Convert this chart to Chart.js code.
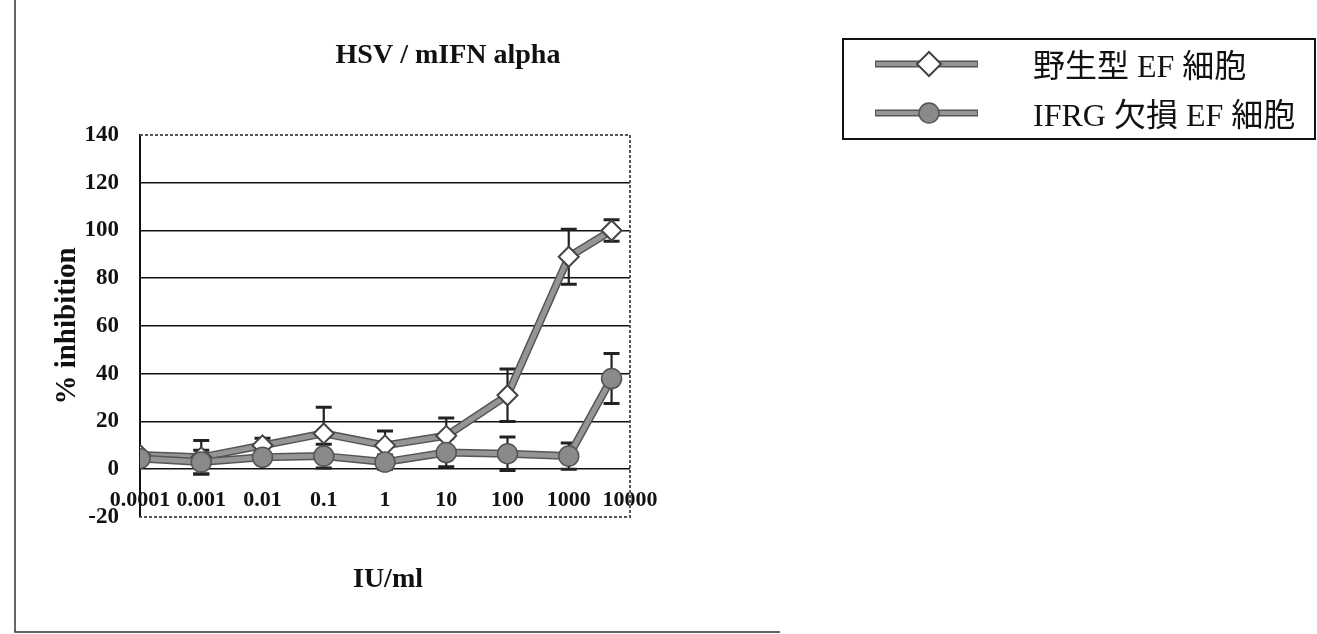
<!DOCTYPE html>
<html>
<head>
<meta charset="utf-8">
<script src="https://cdn.jsdelivr.net/npm/chart.js@4/dist/chart.umd.min.js"></script>
<style>
  html, body { margin: 0; padding: 0; background: #fff; }
  #wrap { position: relative; width: 1317px; height: 634px; }
</style>
</head>
<body>
<div id="wrap"><canvas id="c" width="1317" height="634"></canvas></div>
<script>
// Concentrations (IU/ml) and tick labels of the log axis
const doseTickLabels = ['0.0001', '0.001', '0.01', '0.1', '1', '10', '100', '1000', '10000'];
const doses = [0.0001, 0.001, 0.01, 0.1, 1, 10, 100, 1000, 5000];

// % inhibition, mean and error per concentration
const wildType    = [6, 5, 10, 15, 10, 14, 31, 89, 100];
const wildTypeErr = [null, 7, 3, 11, 6, 7.5, 11, 11.5, 4.5];
const ifrgKO      = [4.5, 3, 5, 5.5, 3, 7, 6.5, 5.5, 38];
const ifrgKOErr   = [null, 5, 2, 5, 3, 6, 7, 5.5, 10.5];

const seriesNames = ['野生型 EF 細胞', 'IFRG 欠損 EF 細胞'];
const chartTitle = 'HSV / mIFN alpha';
const xAxisTitle = 'IU/ml';
const yAxisTitle = '% inhibition';

const SERIF = '"Liberation Serif", "Times New Roman", serif';
const LEGEND_FONT = '"Liberation Serif", "Noto Sans CJK JP", serif';
const INK = '#111';
const LINE_GREY = '#959595';
const LINE_EDGE = '#555';

const toPoints = (ys) => doses.map((x, i) => ({ x: x, y: ys[i] }));

// Plot frame (dotted top/right/bottom) and the page border lines
const framePlugin = {
  id: 'frame',
  beforeDatasetsDraw(chart) {
    const { ctx, chartArea: a } = chart;
    ctx.save();
    ctx.strokeStyle = '#555';
    ctx.lineWidth = 2;
    ctx.setLineDash([3, 2]);
    ctx.beginPath();
    ctx.moveTo(a.left, a.top);
    ctx.lineTo(a.right, a.top);
    ctx.lineTo(a.right, a.bottom);
    ctx.lineTo(a.left, a.bottom);
    ctx.stroke();
    ctx.setLineDash([]);
    // page border
    ctx.strokeStyle = '#333';
    ctx.lineWidth = 1.5;
    ctx.beginPath();
    ctx.moveTo(15, 0);
    ctx.lineTo(15, 632);
    ctx.lineTo(780, 632);
    ctx.stroke();
    ctx.restore();
  }
};

// Error bars from each dataset's errorBars array, placed with the chart scales
const errorBarPlugin = {
  id: 'errorBars',
  beforeDatasetsDraw(chart) {
    const { ctx } = chart;
    const xs = chart.scales.x, ys = chart.scales.y;
    ctx.save();
    ctx.strokeStyle = '#222';
    chart.data.datasets.forEach((ds) => {
      const errs = ds.errorBars || [];
      ds.data.forEach((p, i) => {
        const e = errs[i];
        if (!e) return;
        const px = xs.getPixelForValue(p.x);
        const top = ys.getPixelForValue(p.y + e);
        const bot = ys.getPixelForValue(p.y - e);
        ctx.lineWidth = 2.2;
        ctx.beginPath();
        ctx.moveTo(px, top);
        ctx.lineTo(px, bot);
        ctx.stroke();
        ctx.lineWidth = 3;
        ctx.beginPath();
        ctx.moveTo(px - 8, top); ctx.lineTo(px + 8, top);
        ctx.moveTo(px - 8, bot); ctx.lineTo(px + 8, bot);
        ctx.stroke();
      });
    });
    ctx.restore();
  }
};

// Dark edge under each series line
const lineEdgePlugin = {
  id: 'lineEdge',
  beforeDatasetDraw(chart, args) {
    const pts = args.meta.data;
    if (!pts.length) return;
    const { ctx } = chart;
    ctx.save();
    ctx.strokeStyle = LINE_EDGE;
    ctx.lineWidth = 8;
    ctx.lineJoin = 'round';
    ctx.beginPath();
    pts.forEach((pt, i) => (i ? ctx.lineTo(pt.x, pt.y) : ctx.moveTo(pt.x, pt.y)));
    ctx.stroke();
    ctx.restore();
  }
};

// Chart title, x-axis title and the boxed legend
const labelsPlugin = {
  id: 'labels',
  afterDraw(chart) {
    const { ctx } = chart;
    ctx.save();
    ctx.fillStyle = INK;
    ctx.textAlign = 'center';
    ctx.textBaseline = 'middle';
    ctx.font = 'bold 28px ' + SERIF;
    ctx.fillText(chartTitle, 448, 56);
    ctx.fillText(xAxisTitle, 388, 580);

    // legend box
    const box = { x: 843, y: 39, w: 472, h: 100 };
    ctx.strokeStyle = INK;
    ctx.lineWidth = 2;
    ctx.strokeRect(box.x, box.y, box.w, box.h);

    const rows = [
      { ds: chart.data.datasets[0], y: 64, r: 12 },
      { ds: chart.data.datasets[1], y: 113, r: 10 }
    ];
    rows.forEach((row) => {
      const ds = row.ds;
      ctx.strokeStyle = LINE_EDGE;
      ctx.lineWidth = 7;
      ctx.beginPath();
      ctx.moveTo(875, row.y);
      ctx.lineTo(978, row.y);
      ctx.stroke();
      ctx.strokeStyle = ds.borderColor;
      ctx.lineWidth = 4;
      ctx.beginPath();
      ctx.moveTo(876, row.y);
      ctx.lineTo(977, row.y);
      ctx.stroke();
      ctx.fillStyle = ds.pointBackgroundColor;
      ctx.strokeStyle = ds.pointBorderColor;
      ctx.lineWidth = ds.pointBorderWidth;
      Chart.helpers.drawPoint(ctx, {
        pointStyle: ds.pointStyle, radius: row.r, rotation: 0, borderWidth: ds.pointBorderWidth
      }, 929, row.y);
      ctx.fillStyle = INK;
      ctx.textAlign = 'left';
      ctx.font = '32px ' + LEGEND_FONT;
      ctx.fillText(ds.label, 1033, row.y + 5);
    });
    ctx.restore();
  }
};

new Chart(document.getElementById('c'), {
  type: 'line',
  data: {
    datasets: [
      {
        label: seriesNames[0],
        data: toPoints(wildType),
        errorBars: wildTypeErr,
        borderColor: LINE_GREY,
        borderWidth: 5,
        pointStyle: 'rectRot',
        pointRadius: 10,
        pointBackgroundColor: '#fff',
        pointBorderColor: '#444',
        pointBorderWidth: 2,
        tension: 0,
        order: 2
      },
      {
        label: seriesNames[1],
        data: toPoints(ifrgKO),
        errorBars: ifrgKOErr,
        borderColor: LINE_GREY,
        borderWidth: 5,
        pointStyle: 'circle',
        pointRadius: 10,
        pointBackgroundColor: '#8a8a8a',
        pointBorderColor: '#555',
        pointBorderWidth: 1.5,
        tension: 0,
        order: 1
      }
    ]
  },
  options: {
    responsive: false,
    animation: false,
    layout: { padding: { left: 0, top: 135, right: 687, bottom: 117 } },
    plugins: {
      legend: { display: false },
      tooltip: { enabled: false },
      title: { display: false }
    },
    scales: {
      x: {
        type: 'logarithmic',
        position: { y: 0 },
        min: 0.0001,
        max: 10000,
        afterBuildTicks(scale) {
          scale.ticks = doseTickLabels.map((t) => ({ value: Number(t) }));
        },
        afterFit(scale) { scale.height = 0; },
        ticks: {
          autoSkip: false,
          maxRotation: 0,
          minRotation: 0,
          padding: 10,
          color: INK,
          font: { family: SERIF, size: 22, weight: 'bold' },
          callback: (v, i) => doseTickLabels[i]
        },
        grid: { display: false },
        border: { display: false }
      },
      y: {
        min: -20,
        max: 140,
        afterFit(scale) { scale.width = 140; },
        ticks: {
          stepSize: 20,
          padding: 21,
          color: INK,
          font: { family: SERIF, size: 23, weight: 'bold' }
        },
        grid: {
          drawTicks: false,
          lineWidth: 1.6,
          color: (c) => (c.tick && (c.tick.value === -20 || c.tick.value === 140)) ? 'rgba(0,0,0,0)' : INK
        },
        border: { display: true, color: INK, width: 2 },
        title: {
          display: true,
          text: yAxisTitle,
          color: INK,
          font: { family: SERIF, size: 29, weight: 'bold' },
          padding: { top: 50, bottom: 0 }
        }
      }
    }
  },
  plugins: [framePlugin, errorBarPlugin, lineEdgePlugin, labelsPlugin]
});
</script>
</body>
</html>
